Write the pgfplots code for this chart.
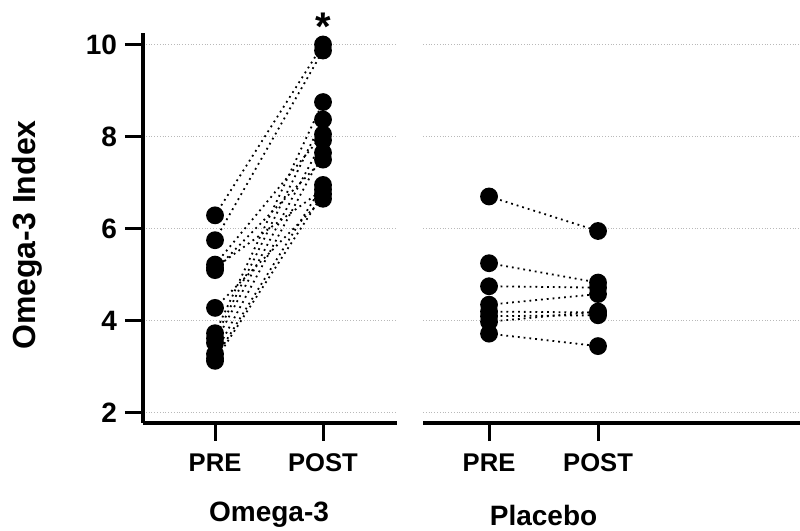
\documentclass[border=0pt]{standalone}
\usepackage{fontspec}
\setmainfont{Liberation Sans}
\usepackage{pgfplots}
\pgfplotsset{compat=1.18}

\newcommand{\lbl}{\bfseries\fontsize{14}{16}\selectfont}
\newcommand{\xtl}{\bfseries\fontsize{12.8}{15}\selectfont}

\pgfplotsset{
  pairpanel/.style={
    scale only axis,
    height=195pt,
    ymin=1.78, ymax=10.25,
    ytick={2,4,6,8,10},
    xtick={0,1},
    xticklabels={PRE,POST},
    axis lines*=left,
    axis line style={line width=1.7pt},
    tick style={line width=1.5pt, black},
    major tick length=9pt,
    tick align=outside,
    ymajorgrids=true,
    grid style={densely dotted, gray!55, line width=0.5pt},
    yticklabel style={font=\lbl, xshift=-0.5pt},
    xticklabel style={font=\xtl, yshift=-3pt},
    /pgf/number format/assume math mode=true,
    clip=false,
  },
  pair/.style={black, dotted, line width=0.9pt,
    mark=*, mark size=4pt, mark options={solid, fill=black}},
}

\begin{document}
\begin{tikzpicture}

% Omega-3
\begin{axis}[pairpanel, at={(71.5pt,54pt)}, anchor=south west,
  width=127pt, xmin=-0.667, xmax=1.685]
  \addplot[pair] coordinates {(0,6.29)(1,10.00)};
  \addplot[pair] coordinates {(0,5.75)(1,9.87)};
  \addplot[pair] coordinates {(0,5.22)(1,8.05)};
  \addplot[pair] coordinates {(0,5.15)(1,6.85)};
  \addplot[pair] coordinates {(0,5.10)(1,7.50)};
  \addplot[pair] coordinates {(0,4.28)(1,6.65)};
  \addplot[pair] coordinates {(0,3.73)(1,8.75)};
  \addplot[pair] coordinates {(0,3.62)(1,8.37)};
  \addplot[pair] coordinates {(0,3.52)(1,7.92)};
  \addplot[pair] coordinates {(0,3.28)(1,7.65)};
  \addplot[pair] coordinates {(0,3.18)(1,6.95)};
  \addplot[pair] coordinates {(0,3.13)(1,6.75)};
  \node[font=\bfseries\fontsize{20}{20}\selectfont] at (axis cs:1,10.38) {*};
  \node[font=\lbl, inner sep=1pt] at (axis cs:0.5,1.78) [yshift=-46pt] {Omega-3};
\end{axis}

% Placebo
\begin{axis}[pairpanel, at={(211.5pt,54pt)}, anchor=south west,
  width=200pt, xmin=-0.606, xmax=3.064,
  y axis line style={draw=none}, ytick style={draw=none}, yticklabels={}]
  \addplot[pair] coordinates {(0,6.70)(1,5.95)};
  \addplot[pair] coordinates {(0,5.25)(1,4.83)};
  \addplot[pair] coordinates {(0,4.75)(1,4.72)};
  \addplot[pair] coordinates {(0,4.35)(1,4.58)};
  \addplot[pair] coordinates {(0,4.20)(1,4.18)};
  \addplot[pair] coordinates {(0,4.10)(1,4.12)};
  \addplot[pair] coordinates {(0,3.98)(1,4.20)};
  \addplot[pair] coordinates {(0,3.72)(1,3.45)};
  \node[font=\lbl, inner sep=1pt] at (axis cs:0.5,1.78) [yshift=-46pt] {Placebo};
\end{axis}

\node[font=\bfseries\fontsize{16}{18}\selectfont, rotate=90] at (13.5pt,148pt) {Omega-3 Index};

\pgfresetboundingbox
\path[use as bounding box] (0,0) rectangle (400pt,265.5pt);
\end{tikzpicture}
\end{document}
